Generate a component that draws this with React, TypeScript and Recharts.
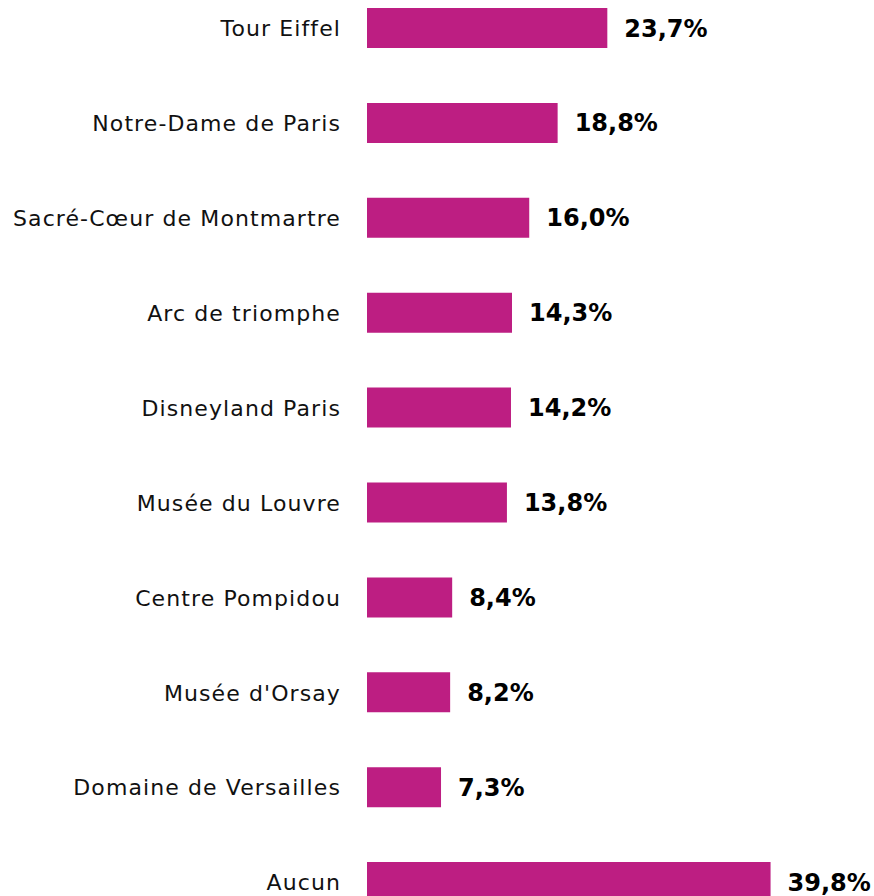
import React from 'react';
import { BarChart, Bar, XAxis, YAxis, LabelList } from 'recharts';

const sites = [
  'Tour Eiffel',
  'Notre-Dame de Paris',
  'Sacré-Cœur de Montmartre',
  'Arc de triomphe',
  'Disneyland Paris',
  'Musée du Louvre',
  'Centre Pompidou',
  "Musée d'Orsay",
  'Domaine de Versailles',
  'Aucun',
];
const shares = [23.7, 18.8, 16.0, 14.3, 14.2, 13.8, 8.4, 8.2, 7.3, 39.8];

const data = sites.map((name, i) => ({ name, value: shares[i] }));

const fmt = (v: number) => `${v.toFixed(1).replace('.', ',')}%`;

const App: React.FC = () => {
  return (
    <div style={{ position: 'absolute', top: -19.5, left: 0, fontFamily: '"DejaVu Sans", sans-serif' }}>
      <BarChart
        layout="vertical"
        width={874}
        height={949}
        data={data}
        margin={{ top: 0, right: 0, bottom: 0, left: 0 }}
        barCategoryGap={27.5}
      >
        <XAxis type="number" domain={[0, 50]} hide />
        <YAxis
          type="category"
          dataKey="name"
          width={367}
          axisLine={false}
          tickLine={false}
          tickMargin={20}
          tick={{ fontSize: 22, fill: '#111', letterSpacing: 1.1, fontFamily: '"DejaVu Sans", sans-serif' }}
        />
        <Bar dataKey="value" fill="#BD1E82" barSize={40} isAnimationActive={false}>
          <LabelList
            dataKey="value"
            position="right"
            offset={17}
            formatter={(v: any) => fmt(Number(v))}
            style={{ fontSize: 24, fontWeight: 700, fill: '#000', fontFamily: '"DejaVu Sans", sans-serif' }}
          />
        </Bar>
      </BarChart>
    </div>
  );
};

export default App;
